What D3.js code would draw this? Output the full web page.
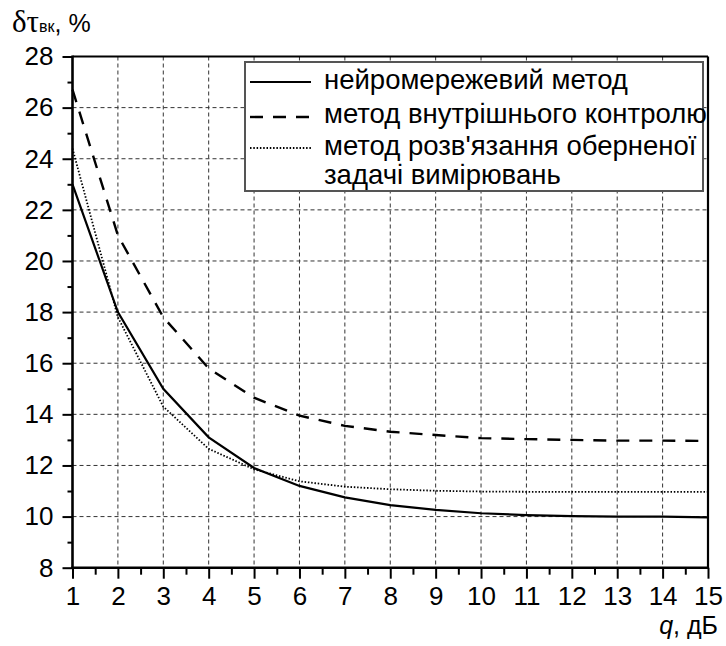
<!DOCTYPE html>
<html><head><meta charset="utf-8">
<script src="https://cdnjs.cloudflare.com/ajax/libs/d3/7.8.5/d3.min.js"></script>
<style>body{margin:0;background:#fff}svg{display:block}text{font-family:"Liberation Sans",Arial,sans-serif}</style>
</head><body><svg id="c" width="726" height="646"></svg>
<script>
const q = [1,2,3,4,5,6,7,8,9,10,11,12,13,14,15];
const neural = [23.0,18.0,15.0,13.1,11.9,11.2,10.75,10.45,10.26,10.13,10.06,10.02,10.0,10.0,9.97];
const internal = [26.7,21.0,17.8,15.8,14.65,13.95,13.55,13.32,13.19,13.07,13.03,13.0,12.97,12.97,12.96];
const inverse = [24.4,17.8,14.3,12.65,11.85,11.38,11.17,11.07,11.01,10.98,10.97,10.97,10.97,10.97,10.97];
const yTicks = [8,10,12,14,16,18,20,22,24,26,28];
const legendLabels = [["нейромережевий метод"],["метод внутрішнього контролю"],["метод розв'язання оберненої","задачі вимірювань"]];

const svg = d3.select("#c");
const L=72.5,R=708,T=56.5,B=567.7;
const x = d3.scaleLinear().domain([1,15]).range([L,R]);
const y = d3.scaleLinear().domain([8,28]).range([B,T]);

// grid
const g = svg.append("g");
g.selectAll(".vg").data(q.slice(1,-1)).join("line").attr("x1",d=>x(d)).attr("x2",d=>x(d)).attr("y1",T).attr("y2",B)
 .attr("stroke","#333").attr("stroke-width",1).attr("stroke-dasharray","4,3");
g.selectAll(".hg").data(yTicks.slice(1,-1)).join("line").attr("y1",d=>y(d)).attr("y2",d=>y(d)).attr("x1",L).attr("x2",R)
 .attr("stroke","#333").attr("stroke-width",1).attr("stroke-dasharray","4,3");

// axes
const xAxis = d3.axisBottom(x).tickValues(q).tickSize(11).tickFormat(d3.format("d"));
const xa = svg.append("g").attr("transform",`translate(0,${B})`).call(xAxis);
const xMinor = d3.axisBottom(x).tickValues(q.slice(0,-1).map(d=>d+0.5)).tickSize(7).tickFormat("");
svg.append("g").attr("transform",`translate(0,${B})`).call(xMinor);
const yAxis = d3.axisLeft(y).tickValues(yTicks).tickSize(10).tickFormat(d3.format("d"));
const ya = svg.append("g").attr("transform",`translate(${L},0)`).call(yAxis);
const yMinor = d3.axisLeft(y).tickValues(yTicks.slice(0,-1).map(d=>d+1)).tickSize(5).tickFormat("");
svg.append("g").attr("transform",`translate(${L},0)`).call(yMinor);
svg.selectAll(".domain").remove();
svg.selectAll(".tick line").attr("stroke","#000").attr("stroke-width",2);
svg.selectAll(".tick text").style("font-size","26px").attr("fill","#000").style("font-family","'Liberation Sans', Arial, sans-serif");
xa.selectAll(".tick text").attr("dy","0.71em").attr("y",19);
ya.selectAll(".tick text").attr("x",-19);

// frame
svg.append("line").attr("x1",L).attr("x2",R).attr("y1",T).attr("y2",T).attr("stroke","#000").attr("stroke-width",2.2);
svg.append("line").attr("x1",R).attr("x2",R).attr("y1",T).attr("y2",B).attr("stroke","#000").attr("stroke-width",2.2);
svg.append("line").attr("x1",L).attr("x2",L).attr("y1",T-1).attr("y2",B+1.3).attr("stroke","#000").attr("stroke-width",2.6);
svg.append("line").attr("x1",L-1.3).attr("x2",R+1).attr("y1",B).attr("y2",B).attr("stroke","#000").attr("stroke-width",2.6);

// series
const line = d3.line().x((d,i)=>x(q[i])).y(d=>y(d));
const styles = [
  {data:neural, w:2.2, dash:null},
  {data:internal, w:2.4, dash:"13,10"},
  {data:inverse, w:1.8, dash:"1.5,1.8"}
];
styles.forEach(s=>{
  svg.append("path").datum(s.data).attr("d",line).attr("fill","none").attr("stroke","#000")
   .attr("stroke-width",s.w).attr("stroke-dasharray",s.dash);
});

// legend
const lg = svg.append("g");
lg.append("rect").attr("x",245).attr("y",62).attr("width",458).attr("height",129).attr("fill","#fff").attr("stroke","#555").attr("stroke-width",2);
const rowsY = [[89],[123],[155,184]];
const sampleY = [82,117,148];
styles.forEach((s,i)=>{
  lg.append("line").attr("x1",250).attr("x2",311).attr("y1",sampleY[i]).attr("y2",sampleY[i]).attr("stroke","#000")
    .attr("stroke-width",s.w).attr("stroke-dasharray",s.dash);
  legendLabels[i].forEach((t,j)=>{
    lg.append("text").attr("x",324).attr("y",rowsY[i][j]).style("font-size","27.5px").attr("fill","#000").text(t);
  });
});

// y label
const yl = svg.append("text").attr("x",12).attr("y",32).attr("fill","#000");
yl.append("tspan").style("font-family","'Liberation Serif', 'Times New Roman', serif").style("font-size","31px").text("δτ");
yl.append("tspan").style("font-size","16px").text("вк");
yl.append("tspan").style("font-size","25px").text(", %");

// x label
const xl = svg.append("text").attr("x",718).attr("y",634).attr("text-anchor","end").style("font-size","25px").attr("fill","#000");
xl.append("tspan").attr("font-style","italic").text("q");
xl.append("tspan").text(", дБ");
</script></body></html>
